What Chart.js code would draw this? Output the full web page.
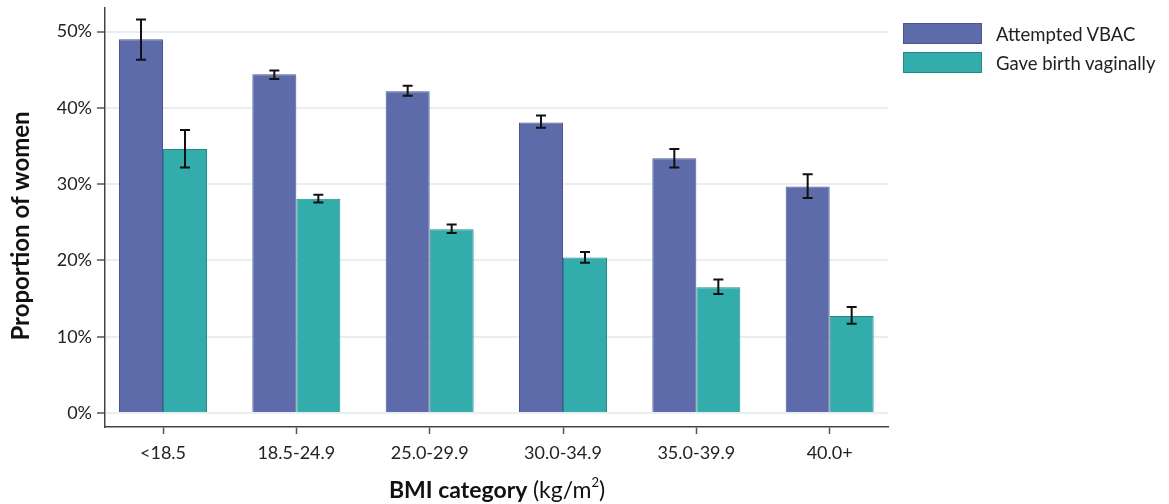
<!DOCTYPE html>
<html>
<head>
<meta charset="utf-8">
<script src="https://cdn.jsdelivr.net/npm/chart.js@4.4.1/dist/chart.umd.min.js"></script>
<style>
  body { margin: 0; background: #fff; }
  #wrap { position: relative; width: 1169px; height: 504px; }
  #legend { position: absolute; left: 903px; top: 23px; font-family: Lato, sans-serif; font-size: 18.5px; color: #222; }
  .item { display: flex; align-items: center; height: 21px; margin-bottom: 8px; }
  .box { width: 79px; height: 21px; margin-right: 14px; box-sizing: border-box; }
</style>
</head>
<body>
<div id="wrap">
  <canvas id="chart" width="1169" height="504"></canvas>
  <div id="legend"></div>
</div>
<script>
const categories = ["<18.5", "18.5-24.9", "25.0-29.9", "30.0-34.9", "35.0-39.9", "40.0+"];
const seriesNames = ["Attempted VBAC", "Gave birth vaginally"];
const attempted = [49.0, 44.4, 42.2, 38.1, 33.4, 29.7];
const attemptedLow = [46.3, 43.8, 41.6, 37.4, 32.2, 28.2];
const attemptedHigh = [51.6, 44.9, 42.9, 39.0, 34.6, 31.3];
const vaginal = [34.6, 28.1, 24.1, 20.4, 16.5, 12.7];
const vaginalLow = [32.2, 27.6, 23.6, 19.7, 15.6, 11.7];
const vaginalHigh = [37.1, 28.6, 24.7, 21.1, 17.5, 13.9];
const yTicks = [0, 10, 20, 30, 40, 50];

const colors = ["#5E6BAB", "#33ADAC"];
const borders = ["#4A558F", "#26878A"];

function toPoints(vals) {
  return vals.map((v, i) => ({ x: i, y: v }));
}

// error bars drawn on top of each bar
const errorBars = {
  id: "errorBars",
  afterDatasetsDraw(chart) {
    const ctx = chart.ctx;
    const y = chart.scales.y;
    const ranges = [[attemptedLow, attemptedHigh], [vaginalLow, vaginalHigh]];
    ctx.save();
    ctx.strokeStyle = "#111";
    ctx.lineWidth = 2;
    ranges.forEach((r, d) => {
      chart.getDatasetMeta(d).data.forEach((bar, i) => {
        const yl = y.getPixelForValue(r[0][i]);
        const yh = y.getPixelForValue(r[1][i]);
        ctx.beginPath();
        ctx.moveTo(bar.x, yl); ctx.lineTo(bar.x, yh);
        ctx.moveTo(bar.x - 5, yl); ctx.lineTo(bar.x + 5, yl);
        ctx.moveTo(bar.x - 5, yh); ctx.lineTo(bar.x + 5, yh);
        ctx.stroke();
      });
    });
    ctx.restore();
  }
};

// axis titles (x title mixes bold and regular text)
const axisTitles = {
  id: "axisTitles",
  afterDraw(chart) {
    const ctx = chart.ctx;
    ctx.save();
    ctx.fillStyle = "#111";
    ctx.textBaseline = "alphabetic";
    ctx.font = "bold 24px Lato, sans-serif";
    ctx.translate(29, 226);
    ctx.rotate(-Math.PI / 2);
    ctx.textAlign = "center";
    ctx.fillText("Proportion of women", 0, 0);
    ctx.restore();

    ctx.save();
    ctx.fillStyle = "#111";
    const bold = "bold 23px Lato, sans-serif";
    const reg = "23px Lato, sans-serif";
    const sup = "13px Lato, sans-serif";
    const parts = [["BMI category ", bold, 0], ["(kg/m", reg, 0], ["2", sup, -11], [")", reg, 0]];
    let total = 0;
    parts.forEach(p => { ctx.font = p[1]; total += ctx.measureText(p[0]).width; });
    let x = 497 - total / 2;
    const base = 498;
    parts.forEach(p => {
      ctx.font = p[1];
      ctx.fillText(p[0], x, base + p[2]);
      x += ctx.measureText(p[0]).width;
    });
    ctx.restore();
  }
};

const data = {
  datasets: [
    { label: seriesNames[0], data: toPoints(attempted), backgroundColor: colors[0], borderColor: borders[0], borderWidth: 1 },
    { label: seriesNames[1], data: toPoints(vaginal), backgroundColor: colors[1], borderColor: borders[1], borderWidth: 1 }
  ]
};

const config = {
  type: "bar",
  data: data,
  options: {
    responsive: false,
    animation: false,
    devicePixelRatio: 1,
    categoryPercentage: 0.66,
    barPercentage: 1,
    layout: { padding: { left: 0, right: 281, top: 8, bottom: 0 } },
    plugins: {
      legend: { display: false },
      tooltip: { enabled: false }
    },
    scales: {
      x: {
        type: "linear",
        offset: false,
        min: -0.435,
        max: 5.4375,
        afterBuildTicks(axis) { axis.ticks = categories.map((c, i) => ({ value: i })); },
        afterFit(scale) { scale.height = 77; scale.paddingLeft = 0; scale.paddingRight = 0; },
        ticks: {
          callback: (v) => categories[v],
          font: { family: "Lato, sans-serif", size: 18 },
          color: "#222",
          padding: 8,
          maxRotation: 0,
          autoSkip: false
        },
        grid: { offset: false, drawOnChartArea: false, tickLength: 7, tickColor: "#555", tickWidth: 1.5 },
        border: { color: "#444", width: 1.5 }
      },
      y: {
        min: -1.84,
        max: 53.1,
        afterBuildTicks(axis) { axis.ticks = yTicks.map(v => ({ value: v })); },
        afterFit(scale) { scale.width = 105; scale.paddingTop = 0; scale.paddingBottom = 0; },
        ticks: {
          callback: (v) => v + "%",
          font: { family: "Lato, sans-serif", size: 18 },
          color: "#222",
          padding: 5
        },
        grid: { color: "#E8EFF1", lineWidth: 2, tickLength: 8, tickColor: "#555", tickWidth: 1.5 },
        border: { color: "#444", width: 1.5 }
      }
    }
  },
  plugins: [errorBars, axisTitles]
};

new Chart(document.getElementById("chart"), config);

const legend = document.getElementById("legend");
data.datasets.forEach((ds) => {
  const item = document.createElement("div");
  item.className = "item";
  const box = document.createElement("span");
  box.className = "box";
  box.style.background = ds.backgroundColor;
  box.style.border = "1px solid " + ds.borderColor;
  const txt = document.createElement("span");
  txt.textContent = ds.label;
  item.appendChild(box);
  item.appendChild(txt);
  legend.appendChild(item);
});
</script>
</body>
</html>
